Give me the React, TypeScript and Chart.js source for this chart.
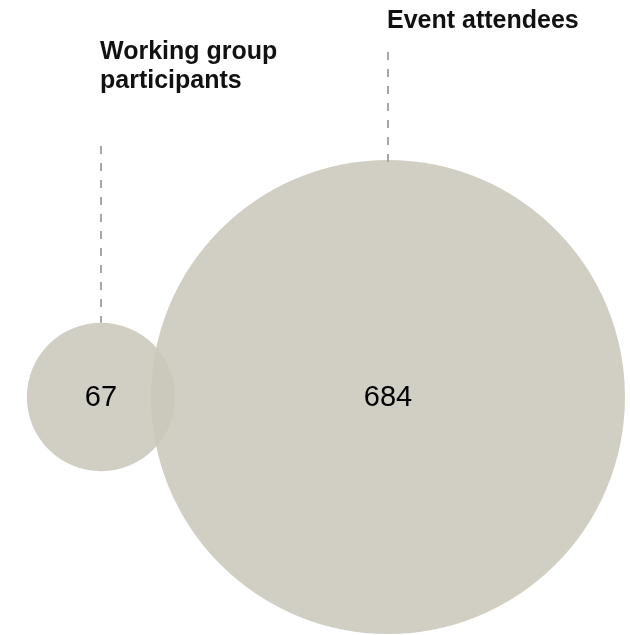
import React, { useEffect, useRef } from "react";
import { Chart, registerables } from "chart.js";

Chart.register(...registerables);

// ---- data ----
const groups = ["Working group participants", "Event attendees"];
const labelLines = [["Working group", "participants"], ["Event attendees"]];
const counts = [67, 684];
// circle centres in "area units" (radius unit = sqrt(count/π))
const centerX = [0, 17.87];
const centerY = [0, 0];

const FILL = "rgba(202,200,187,0.87)";
const LINE = "#a4a8ae";
const FONT = '"Liberation Sans", Arial, Helvetica, sans-serif';

// label anchor positions in pixels (top text baseline, start of leader line)
const labelBaseline = [59, 28];
const leaderStart = [146, 52];

const unitRadius = (v: number) => Math.sqrt(v / Math.PI);

const overlayPlugin = {
  id: "vennOverlay",
  afterDatasetsDraw(chart: any) {
    const { ctx, scales } = chart;
    const sx = scales.x;
    const sy = scales.y;
    ctx.save();
    counts.forEach((v, i) => {
      const cx = sx.getPixelForValue(centerX[i]);
      const cy = sy.getPixelForValue(centerY[i]);
      const r = sx.getPixelForValue(unitRadius(v)) - sx.getPixelForValue(0);
      // leader line
      ctx.beginPath();
      ctx.setLineDash([8, 9]);
      ctx.lineWidth = 2;
      ctx.strokeStyle = LINE;
      const lx = Math.round(cx);
      ctx.moveTo(lx, leaderStart[i]);
      ctx.lineTo(lx, cy - r + (i === 1 ? 5 : 0));
      ctx.stroke();
      ctx.setLineDash([]);
      // label
      ctx.fillStyle = "#111";
      ctx.font = `bold 25px ${FONT}`;
      ctx.textAlign = "left";
      ctx.textBaseline = "alphabetic";
      labelLines[i].forEach((t, j) => {
        ctx.fillText(t, cx - 1, labelBaseline[i] + j * 29);
      });
      // value
      ctx.font = `29px ${FONT}`;
      ctx.textAlign = "center";
      ctx.textBaseline = "middle";
      ctx.fillStyle = "#000";
      ctx.fillText(String(v), cx, cy + 1);
    });
    ctx.restore();
  },
};

export default function App() {
  const ref = useRef<HTMLCanvasElement>(null);
  useEffect(() => {
    if (!ref.current) return;
    const pxPerUnit = 16.06;
    const W = 630;
    const H = 635;
    const xMin = -101 / pxPerUnit;
    const yMax = 397 / pxPerUnit;
    const chart = new Chart(ref.current, {
      type: "bubble",
      data: {
        datasets: [
          {
            label: "Venn",
            parsing: false,
            data: counts.map((v, i) => ({ x: centerX[i], y: centerY[i], v, name: groups[i] })) as any,
            backgroundColor: FILL,
            borderWidth: 0,
            hoverBorderWidth: 0,
            hoverBackgroundColor: FILL,
            radius: (c: any) => {
              const sx = c.chart.scales.x;
              const v = c.raw ? c.raw.v : 0;
              const r = sx.getPixelForValue(unitRadius(v)) - sx.getPixelForValue(0);
              return isFinite(r) ? r : 0;
            },
          } as any,
        ],
      },
      options: {
        animation: false,
        responsive: false,
        maintainAspectRatio: false,
        layout: { padding: 0 },
        events: [],
        scales: {
          x: { type: "linear", display: false, min: xMin, max: xMin + W / pxPerUnit },
          y: { type: "linear", display: false, min: yMax - H / pxPerUnit, max: yMax },
        },
        plugins: { legend: { display: false }, tooltip: { enabled: false } },
      },
      plugins: [overlayPlugin],
    });
    return () => chart.destroy();
  }, []);
  return (
    <div style={{ position: "absolute", left: 0, top: 0, width: 630, height: 635, background: "#fff" }}>
      <canvas ref={ref} width={630} height={635} style={{ display: "block" }} />
    </div>
  );
}
